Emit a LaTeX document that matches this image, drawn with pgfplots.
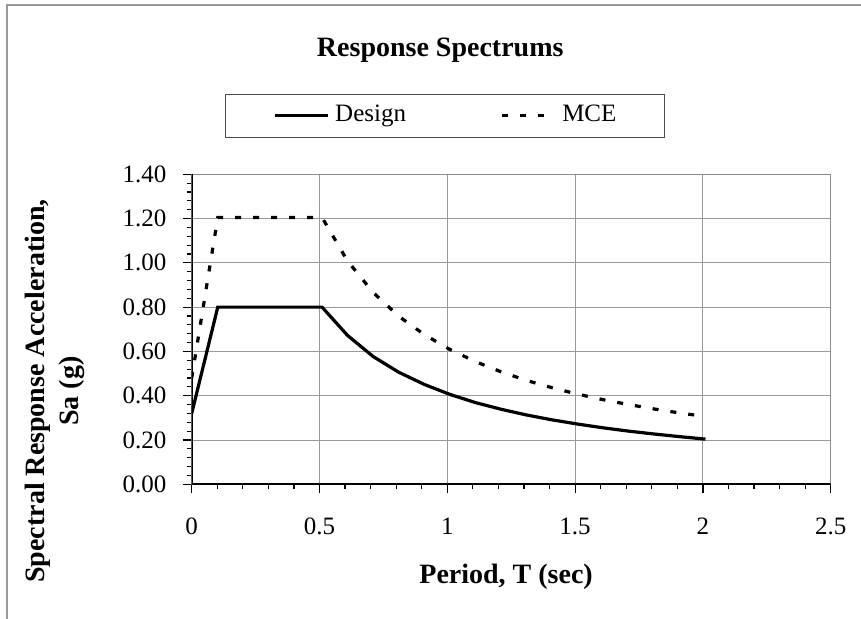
\documentclass[border=0pt]{standalone}
\usepackage{pgfplots}
\pgfplotsset{compat=1.18}
\usepackage{fontspec}
\setmainfont{Liberation Serif}
\begin{document}
\fontsize{12.5}{17}\selectfont
\begin{tikzpicture}
\path[use as bounding box] (0,0) rectangle (430.5pt,309.5pt);
\draw[black!40, line width=0.6pt] (3.5pt,0) -- (3.5pt,307pt) -- (430.5pt,307pt);
\begin{axis}[
  at={(95.85pt,67.35pt)}, anchor=south west,
  scale only axis, width=319.5pt, height=155pt,
  xmin=0, xmax=2.5, ymin=0, ymax=1.4,
  xtick={0,0.5,1,1.5,2,2.5}, xticklabels={0,0.5,1,1.5,2,2.5},
  ytick={0,0.2,0.4,0.6,0.8,1.0,1.2,1.4},
  yticklabel style={xshift=-3.8pt, /pgf/number format/.cd,fixed,fixed zerofill,precision=2},
  /pgf/number format/assume math mode=true,
  minor x tick num=4, minor y tick num=4,
  tick align=outside, xtick pos=left, ytick pos=left,
  major tick length=4.5pt, minor tick length=2.5pt,
  grid=major, major grid style={black!40, line width=0.5pt},
  axis line style={black!45, line width=0.5pt},
  tick style={black, line width=0.6pt},
  xticklabel style={yshift=-8pt},
  every axis title shift=0pt,
  title={Response Spectrums},
  title style={at={(axis description cs:0.389,1.40)}, anchor=center, font=\fontsize{14}{17}\selectfont\bfseries},
  xlabel={Period, T (sec)},
  xlabel style={at={(axis description cs:0.492,-0.299)}, anchor=center, font=\fontsize{14}{17}\selectfont\bfseries},
  ylabel={Spectral Response Acceleration,\\ Sa (g)},
  ylabel style={at={(axis description cs:-0.214,0.301)}, anchor=center, align=center, font=\fontsize{14}{17}\selectfont\bfseries},
  legend columns=2,
  legend image code/.code={\draw[#1] (0pt,0pt) -- (26.5pt,0pt);},
  legend style={at={(axis description cs:0.396,1.189)}, anchor=center,
    draw=black!70, line width=0.5pt, inner xsep=24pt, inner ysep=4.75pt,
    nodes={inner sep=0pt, text height=9pt, text depth=3pt},
    /tikz/every odd column/.append style={column sep=3pt},
    /tikz/every even column/.append style={column sep=47pt}},
]
\addplot[black, line width=1.6pt] coordinates {
 (0,0.32) (0.102,0.80) (0.51,0.80) (0.61,0.672) (0.71,0.577) (0.81,0.506)
 (0.91,0.451) (1.01,0.406) (1.11,0.369) (1.21,0.339) (1.31,0.313) (1.41,0.291)
 (1.51,0.272) (1.61,0.255) (1.71,0.240) (1.81,0.227) (1.91,0.215) (2.01,0.204)
};
\addlegendentry{Design}
\addplot[black, line width=1.6pt, dash pattern=on 3pt off 6pt] coordinates {
 (0,0.48) (0.102,1.205) (0.51,1.205) (0.61,1.008) (0.71,0.866) (0.81,0.759)
 (0.91,0.676) (1.01,0.609) (1.11,0.554) (1.21,0.508) (1.31,0.469) (1.41,0.436)
 (1.51,0.407) (1.61,0.382) (1.71,0.360) (1.81,0.340) (1.91,0.322) (2.01,0.306)
};
\addlegendentry{MCE}
\draw[black, line width=0.8pt] (rel axis cs:0,1) -- (rel axis cs:0,0) -- (rel axis cs:1,0);
\end{axis}
\end{tikzpicture}
\end{document}
